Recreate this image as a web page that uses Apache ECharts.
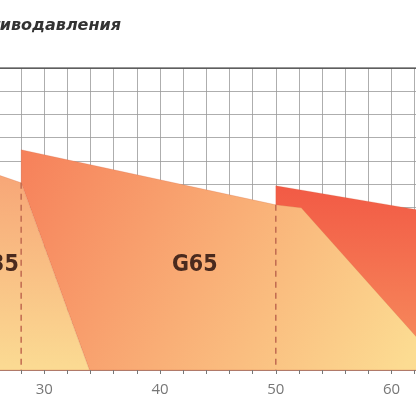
<!DOCTYPE html><html><head><meta charset="utf-8"><script src="https://cdn.jsdelivr.net/npm/echarts@6/dist/echarts.min.js"></script>
<style>html,body{margin:0;background:#fff;overflow:hidden;width:416px;height:416px}#c{width:425px;height:416px;margin-left:-5px}</style></head><body><div id="c"></div><script>
const xTicks=[30,40,50,60];
const g35=[[26,8.4],[28,8.06],[33.9,0],[26,0]];
const g65=[[28,9.48],[50,7.11],[52.2,6.98],[64.7,0],[33.9,0],[28,8.06]];
const gNext=[[50,7.93],[62.2,6.9],[62.2,0],[50,0]];
const dashes=[[28,8.06],[50,7.11]];
const labels=[{name:'G65',x:43,y:4.5,align:'center'},{name:'G35',x:27.8,y:4.5,align:'right'}];
const chart=echarts.init(document.getElementById('c'));
function poly(pts,fill,z){return{type:'custom',clip:true,z:z,data:[0],renderItem:(p,api)=>({type:'polygon',shape:{points:pts.map(q=>api.coord(q))},style:{fill:fill,stroke:'rgba(200,90,60,0.35)',lineWidth:0.6}})};}
const LG=(a,b,x2,y2)=>new echarts.graphic.LinearGradient(0,0,x2,y2,[{offset:0,color:a},{offset:1,color:b}]);
chart.setOption({animation:false,
graphic:[{type:'text',right:299,top:18,style:{text:'Рабочие поля противодавления',font:'italic 600 16px "DejaVu Sans"',fill:'#333'}}],
grid:{left:0,right:0,top:68,bottom:46},
xAxis:{type:'value',min:26,max:62.2,interval:2,axisLine:{lineStyle:{color:'#b07a6a',width:1}},axisTick:{show:true,length:4,lineStyle:{color:'#777'}},
axisLabel:{color:'#777',fontSize:15,fontFamily:'Open Sans',margin:12,formatter:v=>xTicks.includes(v)?String(v):''},splitLine:{show:true,lineStyle:{color:'#999',width:0.8}}},
yAxis:{type:'value',min:0,max:13,interval:1,axisLabel:{show:false},axisLine:{show:false},axisTick:{show:false},splitLine:{show:true,lineStyle:{color:'#999',width:0.8}}},
series:[
poly(gNext,LG('#f25a45','#f7905f',0,1),2),
poly(g65,LG('#f6805a','#fcdc92',0.9,1),3),
poly(g35,LG('#f7a677','#fbdb93',0,1),4),
{type:'custom',z:5,data:[0],renderItem:(p,api)=>({type:'group',children:dashes.map(d=>{const a=api.coord(d),b=api.coord([d[0],0]);return{type:'line',shape:{x1:a[0],y1:a[1],x2:b[0],y2:b[1]},style:{stroke:'#c06a50',lineWidth:1.5,lineDash:[6,5]}};})})},
{type:'custom',z:6,data:[0],renderItem:(p,api)=>({type:'group',children:labels.map(l=>{const a=api.coord([l.x,l.y]);return{type:'text',x:a[0],y:a[1],style:{text:l.name,font:'bold 23px "DejaVu Sans Condensed"',fill:'#4a2a1e',align:l.align,verticalAlign:'middle'}};})})},
{type:'line',z:7,data:[[26,13],[62.2,13]],symbol:'none',lineStyle:{color:'#444',width:1.5}}
]});
</script></body></html>
